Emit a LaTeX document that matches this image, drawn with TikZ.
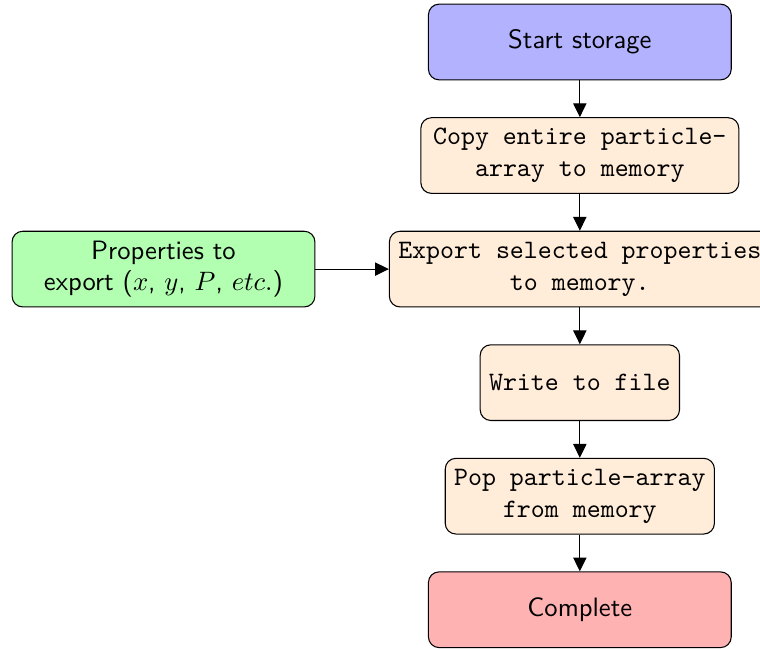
\documentclass[tikz,border=0pt]{standalone}
\usetikzlibrary{arrows.meta,positioning}

\tikzset{
  startstop/.style={rectangle, rounded corners=4pt, minimum width=4cm, minimum height=1cm,
    align=center, draw=black, font=\sffamily},
  process/.style={rectangle, rounded corners=4pt, minimum height=1cm,
    align=center, draw=black, fill=orange!15, font=\ttfamily},
  io/.style={rectangle, rounded corners=4pt, minimum width=4cm, minimum height=1cm,
    align=center, draw=black, fill=green!30, font=\sffamily},
  flow/.style={-{Triangle[length=5.2pt,width=5pt]}, line width=0.4pt},
}

\begin{document}
\begin{tikzpicture}
  \useasboundingbox (-7.66,0.555) rectangle (2.38,-8.006);

  \node[startstop, fill=blue!30] (start) at (0,0) {Start storage};
  \node[process, minimum width=4.2cm] (copy) at (0,-1.5) {Copy entire particle-\\array to memory};
  \node[process] (export) at (0,-3) {Export selected properties\\to memory.};
  \node[io] (props) at (-5.5,-3) {Properties to\\export ($x$, $y$, $P$, $etc.$)};
  \node[process] (write) at (0,-4.5) {Write to file};
  \node[process] (pop) at (0,-6) {Pop particle-array\\from memory};
  \node[startstop, fill=red!30] (done) at (0,-7.5) {Complete};

  \draw[flow] (start) -- (copy);
  \draw[flow] (copy) -- (export);
  \draw[flow] (props) -- (export);
  \draw[flow] (export) -- (write);
  \draw[flow] (write) -- (pop);
  \draw[flow] (pop) -- (done);
\end{tikzpicture}
\end{document}
